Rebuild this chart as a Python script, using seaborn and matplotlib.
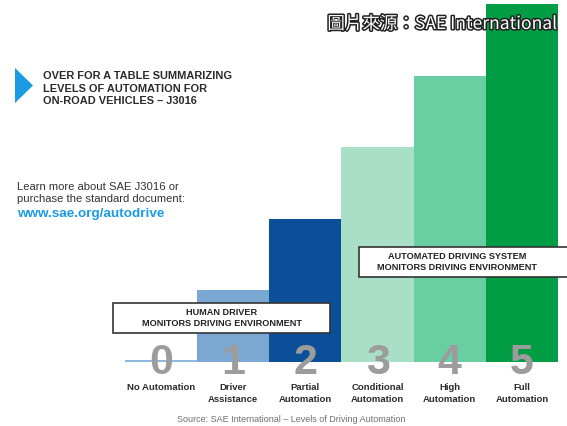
import seaborn as sns
import matplotlib.pyplot as plt
import matplotlib.transforms as mtransforms
import matplotlib.patheffects as pe
from matplotlib.patches import Polygon, Rectangle

# levels of driving automation
levels = ["0", "1", "2", "3", "4", "5"]
heights = [0.03, 1, 2, 3, 4, 5]
names = ["No Automation", "Driver\nAssistance", "Partial\nAutomation",
         "Conditional\nAutomation", "High\nAutomation", "Full\nAutomation"]
colors = ["#8db9de", "#7ba8d2", "#0b4f98", "#a8dfc6", "#69cea1", "#009d45"]

W, H = 567, 426
fig = plt.figure(figsize=(W / 100, H / 100), dpi=100)
fig.patch.set_facecolor("white")

def fx(px):
    return px / W

def fy(py):
    return 1 - py / H

ax = fig.add_axes([fx(125), 64 / H, 433 / W, 358 / H])
sns.barplot(x=levels, y=heights, hue=levels, palette=colors, legend=False,
            width=1.0, saturation=1, linewidth=0, ax=ax)
ax.set_xlim(-0.5, 5.5)
ax.set_ylim(0, 5)
ax.axis("off")

font = "Liberation Sans"
trans = mtransforms.blended_transform_factory(ax.transData, fig.transFigure)
for i, (lv, nm) in enumerate(zip(levels, names)):
    ax.text(i, fy(374.5), lv, transform=trans, ha="center", va="baseline",
            fontsize=31, fontweight="bold", color="#9c9c9c", family=font,
            clip_on=False, zorder=5)
    ax.text(i, fy(383.5), nm, transform=trans, ha="center", va="top",
            fontsize=6.8, fontweight="bold", color="#2b2b2b", family=font,
            linespacing=1.3)

# boxes
for x0, y0, x1, y1, txt in [(113, 303, 330, 333, "HUMAN DRIVER\nMONITORS DRIVING ENVIRONMENT"),
                            (359, 247, 580, 277, "AUTOMATED DRIVING SYSTEM\nMONITORS DRIVING ENVIRONMENT")]:
    fig.patches.append(Rectangle((fx(x0), fy(y1)), fx(x1) - fx(x0), fy(y0) - fy(y1),
                                 transform=fig.transFigure, facecolor="white",
                                 edgecolor="#333333", linewidth=1.2, zorder=6))
    cx = (x0 + 555) / 2 if x1 > W else (x0 + x1) / 2
    fig.text(fx(cx), fy((y0 + y1) / 2), txt, ha="center", va="center",
             fontsize=6.6, fontweight="bold", color="#222222", family=font,
             linespacing=1.35, zorder=7)

# left panel
fig.patches.append(Polygon([[fx(15), fy(68)], [fx(15), fy(103)], [fx(33), fy(85.5)]],
                           closed=True, transform=fig.transFigure,
                           facecolor="#1a9be3", edgecolor="none"))
fig.text(fx(43), fy(88.5), "OVER FOR A TABLE SUMMARIZING\nLEVELS OF AUTOMATION FOR\nON-ROAD VEHICLES \u2013 J3016",
         ha="left", va="center", fontsize=7.9, fontweight="bold", color="#2b2b2b",
         family=font, linespacing=1.3)
fig.text(fx(17), fy(193), "Learn more about SAE J3016 or\npurchase the standard document:",
         ha="left", va="center", fontsize=8.1, color="#333333", family=font,
         linespacing=1.3)
fig.text(fx(17), fy(214.5), "www.sae.org/autodrive", ha="left", va="center",
         fontsize=9.7, fontweight="bold", color="#1a9be3", family=font)

fig.text(fx(291), fy(419), "Source: SAE International \u2013 Levels of Driving Automation",
         ha="center", va="center", fontsize=6.5, color="#6f6f6f", family=font)

t = fig.text(fx(557), fy(24), "圖片來源：SAE International", ha="right", va="center",
             fontsize=12.6, color="white", family=["Noto Sans CJK TC", "DejaVu Sans"])
t.set_path_effects([pe.withStroke(linewidth=2.2, foreground="#222222")])

fig.savefig("out.png", dpi=100)
